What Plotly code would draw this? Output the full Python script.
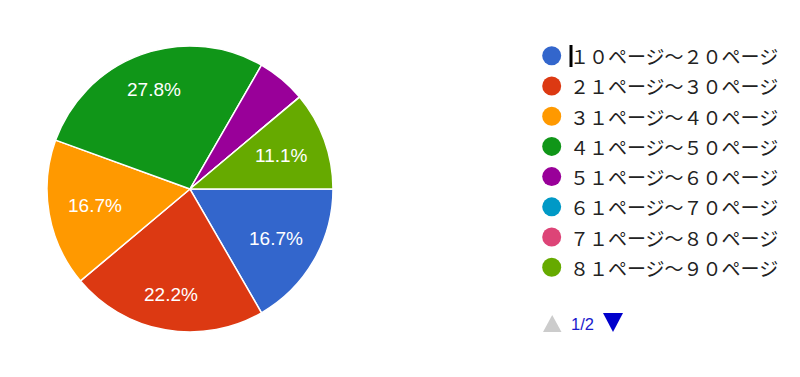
import math
import plotly.graph_objects as go

categories = ["１０ページ～２０ページ", "２１ページ～３０ページ", "３１ページ～４０ページ",
              "４１ページ～５０ページ", "５１ページ～６０ページ", "６１ページ～７０ページ",
              "７１ページ～８０ページ", "８１ページ～９０ページ"]
counts = [3, 4, 3, 5, 1, 0, 0, 2]
colors = ["#3366cc", "#dc3912", "#ff9900", "#109618", "#990099", "#0099c6", "#dd4477", "#66aa00"]
page_label = "1/2"

W, H = 800, 377
OFF = 8  # page body margin


def px(x):
    return (x - OFF) / W


def py(y):
    return 1 - (y - OFF) / H


CX, CY, R = 190, 189, 143
total = sum(counts)

fig = go.Figure()
fig.add_trace(go.Pie(
    labels=categories, values=counts,
    marker=dict(colors=colors, line=dict(color="white", width=1.5)),
    sort=False, direction="clockwise", rotation=90,
    textinfo="none", showlegend=False, hoverinfo="label+percent",
    domain=dict(x=[px(CX - R), px(CX + R)], y=[py(CY + R), py(CY - R)]),
))

annotations = []
shapes = []

# slice percentage labels (Google-style: hidden for small slices)
cum = 0.0
for c in counts:
    frac = c / total
    if frac >= 0.08:
        mid = 2 * math.pi * (cum + frac / 2)
        r = 96 + 11 * math.sin(mid) ** 2
        lx = CX + r * math.cos(mid)
        ly = CY + r * math.sin(mid)
        annotations.append(dict(text=f"{100*frac:.1f}%", x=px(lx), y=py(ly), xref="paper", yref="paper",
                                xanchor="center", yanchor="middle", showarrow=False,
                                font=dict(size=19, color="white", family="Arial, Liberation Sans")))
    cum += frac

y0, dy = 55.7, 30.23
for i, (cat, col) in enumerate(zip(categories, colors)):
    yc = y0 + dy * i
    shapes.append(dict(type="circle", xref="paper", yref="paper",
                       x0=px(551.7 - 9.5), x1=px(551.7 + 9.5), y0=py(yc + 9.5), y1=py(yc - 9.5),
                       fillcolor=col, line=dict(width=0)))
    annotations.append(dict(text=cat, x=px(568), y=py(yc), xref="paper", yref="paper",
                            xanchor="left", yanchor="middle", showarrow=False,
                            font=dict(size=19, color="#222222", family="Noto Sans CJK JP")))

# caret
shapes.append(dict(type="line", xref="paper", yref="paper", x0=px(571), x1=px(571),
                   y0=py(67), y1=py(45), line=dict(color="black", width=3)))
# pagination
shapes.append(dict(type="path", xref="paper", yref="paper",
                   path=f"M {px(543)},{py(332)} L {px(561.5)},{py(332)} L {px(552.2)},{py(315)} Z",
                   fillcolor="#cccccc", line=dict(width=0)))
shapes.append(dict(type="path", xref="paper", yref="paper",
                   path=f"M {px(603)},{py(313)} L {px(623)},{py(313)} L {px(613)},{py(332)} Z",
                   fillcolor="#0000cc", line=dict(width=0)))
annotations.append(dict(text=page_label, x=px(582.5), y=py(324), xref="paper", yref="paper",
                        xanchor="center", yanchor="middle", showarrow=False,
                        font=dict(size=16.5, color="#1a1acc", family="Arial, Liberation Sans")))

fig.update_layout(width=W, height=H, margin=dict(l=0, r=0, t=0, b=0),
                  paper_bgcolor="white", plot_bgcolor="white",
                  shapes=shapes, annotations=annotations)
fig.write_html("out.html")
